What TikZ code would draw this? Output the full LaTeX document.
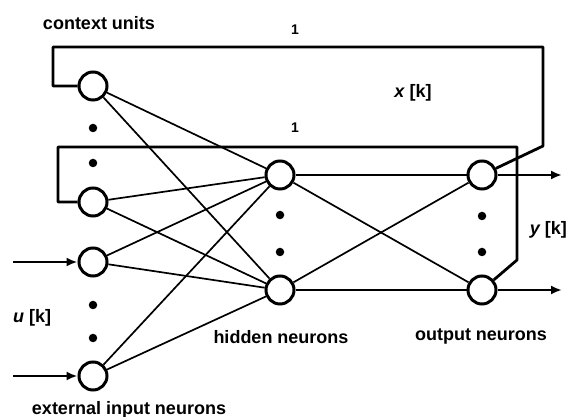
\documentclass[tikz,border=0pt]{standalone}
\usepackage{fontspec}
\setmainfont{Liberation Sans}
\usetikzlibrary{arrows.meta}

\begin{document}
\begin{tikzpicture}[x=1pt, y=1pt,
        neuron/.style={circle, draw, line width=3pt, minimum size=28pt, inner sep=0pt},
        dotnode/.style={circle, fill, minimum size=8.5pt, inner sep=0pt},
        link/.style={line width=1.7pt},
        loopline/.style={line width=2.8pt, line join=round},
        feed/.style={line width=2.8pt, -{Latex[length=11pt, width=9pt]}},
        lbl/.style={font=\fontsize{18}{20}\selectfont\bfseries, inner sep=0pt}]
    \useasboundingbox (0,0) rectangle (568,417); % fixed frame

    % input layer: context units above, external inputs below
    \node [neuron] (c1) at (93,331) {};
    \node [neuron] (c2) at (93,215) {};
    \node [neuron] (i1) at (93,155) {};
    \node [neuron] (i2) at (93,41) {};
    \node [dotnode] (dc1) at (93,289) {};
    \node [dotnode] (dc2) at (93,254) {};
    \node [dotnode] (di1) at (93,112) {};
    \node [dotnode] (di2) at (93,79) {};

    % hidden layer
    \node [neuron] (h1) at (280,242) {};
    \node [neuron] (h2) at (280,127) {};
    \node [dotnode] (dh1) at (280,202) {};
    \node [dotnode] (dh2) at (280,165) {};

    % output layer
    \node [neuron] (o1) at (482,242) {};
    \node [neuron] (o2) at (482,127) {};
    \node [dotnode] (do1) at (482,201) {};
    \node [dotnode] (do2) at (482,165) {};

    % full connections
    \foreach \a in {c1,c2,i1,i2}
        \foreach \b in {h1,h2}
            \draw [link] (\a) -- (\b);
    \foreach \a in {h1,h2}
        \foreach \b in {o1,o2}
            \draw [link] (\a) -- (\b);

    % feedback corners
    \coordinate (ta) at (543,271);
    \coordinate (tb) at (543,370);
    \coordinate (tc) at (53,370);
    \coordinate (td) at (53,331);
    \coordinate (ua) at (517,157);
    \coordinate (ub) at (517,270);
    \coordinate (uc) at (58,270);
    \coordinate (ud) at (58,215);
    \draw [loopline] (o1) -- (ta) -- (tb) -- (tc) -- (td) -- (c1.west);
    \draw [loopline] (o2) -- (ua) -- (ub) -- (uc) -- (ud) -- (c2.west);

    % inputs and outputs
    \coordinate (in1) at (13,155);
    \coordinate (in2) at (13,41);
    \coordinate (out1) at (562,242);
    \coordinate (out2) at (562,127);
    \draw [feed] (in1) -- (i1.west);
    \draw [feed] (in2) -- (i2.west);
    \draw [feed] (o1.east) -- (out1);
    \draw [feed] (o2.east) -- (out2);

    % labels
    \node [lbl] (lctx) at (99,394) {context units};
    \node [lbl, font=\fontsize{14}{16}\selectfont\bfseries] (lone) at (295,387) {1};
    \node [lbl, font=\fontsize{14}{16}\selectfont\bfseries] (ltwo) at (295,289) {1};
    \node [lbl] (lx) at (413,324) {\itshape x\upshape\ [k]};
    \node [lbl, anchor=east] (ly) at (567,187) {\itshape y\upshape\ [k]};
    \node [lbl, anchor=west] (lu) at (13,99) {\itshape u\upshape\ [k]};
    \node [lbl] (lhid) at (281,80) {hidden neurons};
    \node [lbl] (lout) at (481,80) {output neurons};
    \node [lbl] (lext) at (129,7) {external input neurons};
\end{tikzpicture}
\end{document}
